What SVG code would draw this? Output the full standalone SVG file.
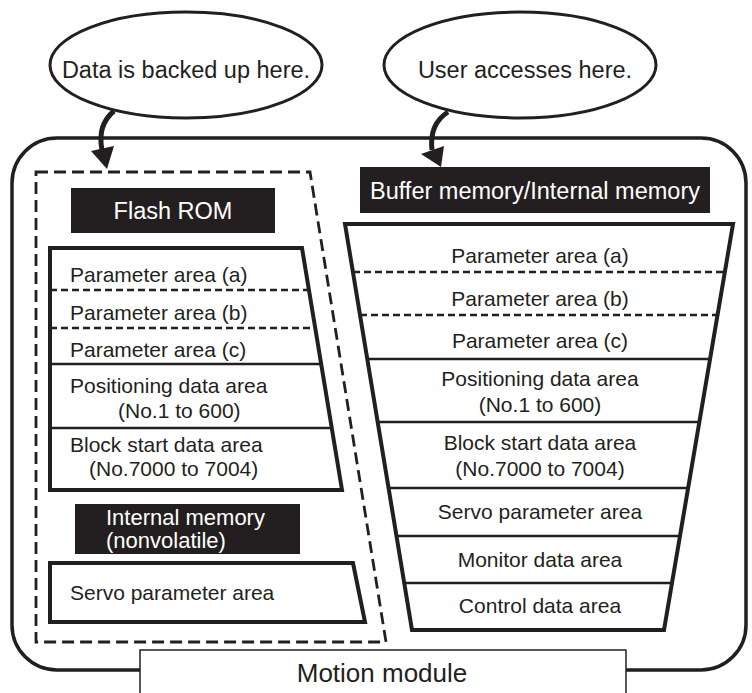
<svg xmlns="http://www.w3.org/2000/svg" width="752" height="693" viewBox="0 0 752 693">
<style>
text{font-family:"Liberation Sans",Arial,sans-serif;fill:#231f20}
.t{font-size:21px}
.h{font-size:23.5px;fill:#fff}
.h2{font-size:22px;fill:#fff}
.c{text-anchor:middle}
.bx{fill:#fff;stroke:#231f20;stroke-width:4;stroke-linejoin:miter}
.dv{stroke:#231f20;stroke-width:2.5;fill:none}
.dd{stroke:#231f20;stroke-width:2.5;fill:none;stroke-dasharray:7 4}
.lab{fill:#231f20}
</style>
<rect width="752" height="693" fill="#fff"/>
<g id="module">
<rect x="12" y="138" width="734" height="532" rx="45" ry="45" fill="#fff" stroke="#231f20" stroke-width="3.5"/>
</g>
<g id="backup-region">
<polygon points="36,172 310,172 386,642 36,642" fill="none" stroke="#231f20" stroke-width="2.8" stroke-dasharray="12 6"/>
</g>
<g id="flash-rom">
<rect class="lab" x="71" y="188" width="204" height="45"/>
<text class="h c" x="173" y="219">Flash ROM</text>
<polygon class="bx" points="50,248 302,248 342,490 50,490"/>
<line class="dd" x1="50" y1="290" x2="309" y2="290"/>
<line class="dd" x1="50" y1="328" x2="315" y2="328"/>
<line class="dv" x1="50" y1="364" x2="321" y2="364"/>
<line class="dv" x1="50" y1="428" x2="332" y2="428"/>
<text class="t" x="70" y="282">Parameter area (a)</text>
<text class="t" x="70" y="320">Parameter area (b)</text>
<text class="t" x="70" y="357">Parameter area (c)</text>
<text class="t" x="70" y="393">Positioning data area</text>
<text class="t" x="118" y="418">(No.1 to 600)</text>
<text class="t" x="70" y="452">Block start data area</text>
<text class="t" x="89" y="476">(No.7000 to 7004)</text>
</g>
<g id="internal-nonvolatile">
<rect class="lab" x="75" y="504" width="225" height="50"/>
<text class="h2" x="106" y="525">Internal memory</text>
<text class="h2" x="106" y="548">(nonvolatile)</text>
<polygon class="bx" points="50,563 353,563 365,622 50,622"/>
<text class="t" x="70" y="600">Servo parameter area</text>
</g>
<g id="buffer-memory">
<rect class="lab" x="360" y="167" width="350" height="46"/>
<text class="h c" x="535" y="199">Buffer memory/Internal memory</text>
<polygon class="bx" points="345,224 733,224 664,630 412,630"/>
<line class="dd" x1="353" y1="272" x2="725" y2="272"/>
<line class="dd" x1="360" y1="315" x2="718" y2="315"/>
<line class="dv" x1="367" y1="359" x2="710" y2="359"/>
<line class="dv" x1="378" y1="422" x2="699" y2="422"/>
<line class="dv" x1="389" y1="488" x2="688" y2="488"/>
<line class="dv" x1="397" y1="536" x2="680" y2="536"/>
<line class="dv" x1="404" y1="583" x2="672" y2="583"/>
<text class="t c" x="540" y="263">Parameter area (a)</text>
<text class="t c" x="540" y="306">Parameter area (b)</text>
<text class="t c" x="540" y="348">Parameter area (c)</text>
<text class="t c" x="540" y="386">Positioning data area</text>
<text class="t c" x="540" y="412">(No.1 to 600)</text>
<text class="t c" x="540" y="450">Block start data area</text>
<text class="t c" x="540" y="476">(No.7000 to 7004)</text>
<text class="t c" x="540" y="519">Servo parameter area</text>
<text class="t c" x="540" y="567">Monitor data area</text>
<text class="t c" x="540" y="613">Control data area</text>
</g>
<g id="motion-module-label">
<rect x="140" y="650" width="486" height="50" fill="#fff" stroke="#231f20" stroke-width="1.5"/>
<text class="c" x="382" y="682" style="font-size:26px">Motion module</text>
</g>
<g id="callout-backup">
<ellipse cx="186" cy="65" rx="136" ry="53" fill="#fff" stroke="#231f20" stroke-width="3"/>
<text class="c" x="186" y="78" style="font-size:23.5px">Data is backed up here.</text>
</g>
<g id="callout-user">
<ellipse cx="520" cy="65" rx="136" ry="53" fill="#fff" stroke="#231f20" stroke-width="3"/>
<text class="c" x="525" y="78" style="font-size:23.5px">User accesses here.</text>
</g>
<g id="connectors">
<path d="M114,111 Q97,125 102,150" fill="none" stroke="#231f20" stroke-width="5"/>
<polygon points="91,151 114,146 107,169" fill="#231f20"/>
<path d="M448,112 Q429,124 432,150" fill="none" stroke="#231f20" stroke-width="5"/>
<polygon points="421,154 444,146 441,167" fill="#231f20"/>
</g>
</svg>
